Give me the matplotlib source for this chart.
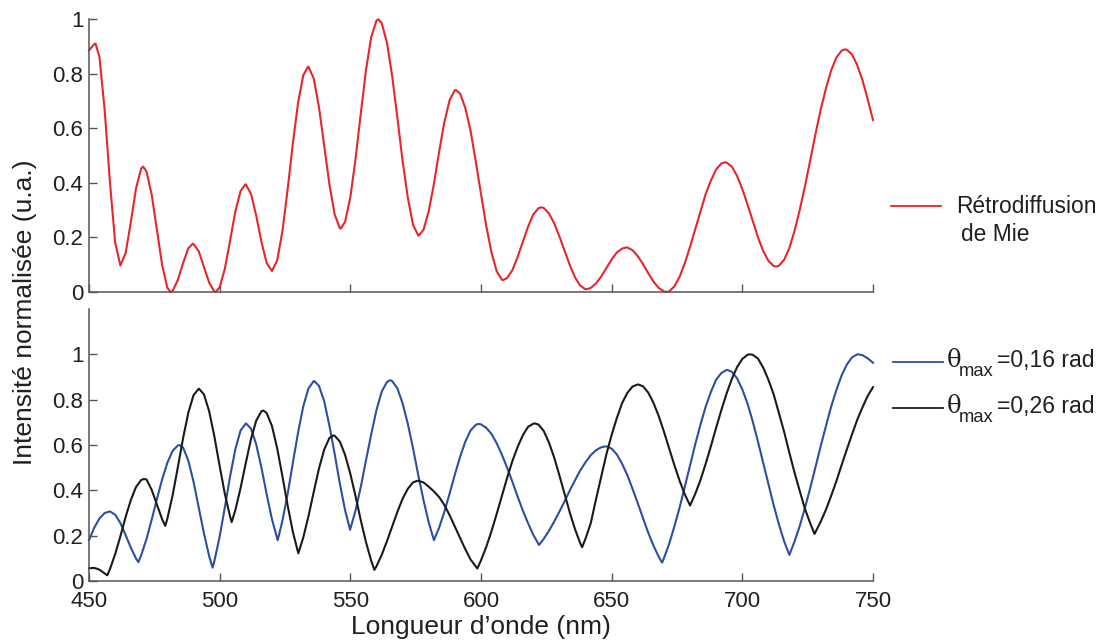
import numpy as np
import matplotlib
matplotlib.use("Agg")
import matplotlib.pyplot as plt
from matplotlib.lines import Line2D

plt.rcParams['font.family'] = ['Liberation Sans', 'DejaVu Sans']

# ---------------- data ----------------
wavelength_grid = np.arange(450, 751, 2)  # nm, sampling grid

mie_grid = [
    .885, .908, .861, .666, .404, .182, .097, .142, .255, .380,
    .453, .442, .356, .226, .098, .015, .004, .044, .106, .160,
    .176, .149, .092, .034, .001, .017, .086, .189, .295, .370,
    .394, .359, .279, .183, .106, .077, .115, .222, .375, .544,
    .693, .794, .825, .782, .677, .536, .394, .284, .233, .257,
    .347, .488, .654, .814, .934, .994, .985, .914, .792, .639,
    .480, .345, .246, .207, .228, .296, .397, .515, .623, .703,
    .739, .727, .674, .591, .478, .359, .243, .145, .076, .045,
    .051, .080, .128, .184, .239, .284, .307, .308, .288, .252,
    .204, .151, .098, .053, .023, .010, .015, .031, .057, .088,
    .119, .145, .159, .163, .153, .131, .102, .069, .038, .015,
    .002, .002, .021, .056, .106, .166, .231, .296, .360, .409,
    .449, .471, .474, .459, .425, .377, .320, .260, .200, .150,
    .114, .095, .096, .118, .161, .225, .302, .389, .484, .579,
    .669, .746, .812, .859, .884, .887, .870, .830, .775, .705,
    .630]
mie_ext_x = [452.5, 470.7, 481.2, 489.7, 498.5, 509.8, 533.8, 546.4, 560.7, 576.2,
             590.4, 608.5, 623.0, 640.3, 655.5, 671.0, 693.4, 713.0, 739.3]
mie_ext_y = [.910, .459, .000, .177, .000, .394, .825, .233, .999, .207,
             .740, .044, .310, .010, .163, .000, .475, .093, .889]

t016_grid = [
    .180, .235, .276, .300, .307, .293, .256, .203, .147, .099,
    .115, .185, .271, .362, .449, .522, .574, .598, .589, .531,
    .438, .324, .209, .109, .089, .196, .326, .462, .582, .664,
    .695, .672, .602, .499, .382, .273, .187, .265, .384, .521,
    .655, .771, .850, .882, .861, .793, .685, .561, .429, .312,
    .230, .311, .415, .533, .648, .754, .835, .878, .882, .850,
    .784, .693, .585, .467, .357, .258, .180, .236, .306, .386,
    .470, .548, .615, .664, .689, .691, .676, .649, .608, .557,
    .500, .438, .373, .311, .255, .204, .163, .186, .221, .262,
    .306, .352, .400, .445, .488, .524, .555, .577, .590, .594,
    .584, .558, .517, .467, .406, .343, .277, .213, .156, .107,
    .101, .164, .241, .324, .416, .510, .604, .691, .770, .835,
    .889, .918, .931, .923, .894, .845, .782, .703, .614, .521,
    .427, .334, .250, .175, .115, .175, .244, .324, .411, .503,
    .595, .684, .770, .843, .907, .955, .987, 1.000, .996, .982,
    .963]
t016_ext_x = [468.9, 484.6, 497.3, 510.1, 522.2, 536.2, 549.9, 565.2, 599.0, 622.2,
              647.7, 669.3, 694.3, 744.4]
t016_ext_y = [.083, .600, .059, .695, .180, .882, .226, .886, .693, .159,
              .594, .081, .931, 1.000]

t026_grid = [
    .056, .058, .050, .033, .052, .118, .197, .282, .357, .415,
    .446, .448, .402, .337, .272, .276, .378, .502, .630, .742,
    .820, .848, .823, .748, .636, .507, .383, .284, .313, .410,
    .521, .627, .708, .749, .741, .684, .586, .463, .334, .217,
    .126, .192, .287, .393, .496, .580, .631, .641, .615, .556,
    .473, .374, .268, .171, .089, .065, .115, .175, .240, .305,
    .363, .407, .435, .442, .435, .416, .395, .370, .335, .290,
    .240, .190, .140, .095, .064, .091, .150, .219, .296, .375,
    .455, .529, .591, .643, .680, .694, .690, .662, .611, .545,
    .466, .383, .301, .228, .166, .187, .255, .360, .460, .560,
    .645, .720, .785, .830, .858, .867, .859, .831, .786, .728,
    .659, .585, .511, .442, .382, .333, .385, .446, .518, .596,
    .677, .755, .828, .892, .944, .980, .998, .998, .981, .941,
    .887, .823, .741, .658, .566, .477, .396, .317, .254, .216,
    .262, .315, .376, .441, .512, .581, .648, .712, .767, .817,
    .855]
t026_ext_x = [457.0, 471.0, 479.2, 492.1, 504.6, 516.7, 530.1, 543.5, 559.2, 575.6,
              598.6, 620.7, 638.7, 660.2, 703.0, 727.6]
t026_ext_y = [.025, .450, .243, .848, .260, .752, .122, .642, .049, .442,
              .055, .695, .149, .867, 1.000, .208]

x_ticks = [450, 500, 550, 600, 650, 700, 750]
y_ticks = [0, 0.2, 0.4, 0.6, 0.8, 1]
y_tick_labels = ['0', '0.2', '0.4', '0.6', '0.8', '1']

label_mie = ['Rétrodiffusion', 'de Mie']
label_theta = ['\u03b8', 'max']
label_values = ['=0,16 rad', '=0,26 rad']

RED = '#E6262C'
BLUE = '#2C4EA3'
BLACK = '#1A1A1A'
AXC = '#555555'
TXC = '#231F20'


def merge(gx, gy, ex, ey):
    x = np.concatenate([np.asarray(gx, float), np.asarray(ex, float)])
    y = np.concatenate([np.asarray(gy, float), np.asarray(ey, float)])
    o = np.argsort(x, kind='stable')
    return x[o], y[o]


W, H = 1101, 642
fig = plt.figure(figsize=(W / 100, H / 100), dpi=100)


def rect(l, t, r, b):
    return [l / W, 1 - b / H, (r - l) / W, (b - t) / H]


def fx(p):
    return p / W


def fy(p):
    return 1 - p / H


ax1 = fig.add_axes(rect(89, 19, 873, 292))
ax2 = fig.add_axes(rect(89, 309, 873, 581))

for ax in (ax1, ax2):
    ax.set_facecolor('none')
    ax.spines['top'].set_visible(False)
    ax.spines['right'].set_visible(False)
    for s in ('left', 'bottom'):
        ax.spines[s].set_color(AXC)
        ax.spines[s].set_linewidth(1.1)
    ax.set_xlim(450, 750)
    ax.set_xticks(x_ticks)
    ax.set_yticks(y_ticks)
    ax.set_yticklabels(y_tick_labels)
    ax.tick_params(axis='both', direction='in', length=5.5, width=1.0,
                   color=AXC, labelsize=16, labelcolor=TXC)
    ax.tick_params(axis='y', pad=4)
    ax.tick_params(axis='x', pad=7.5)

ax1.set_ylim(0, 1)
ax2.set_ylim(0, 1.2)
ax1.tick_params(axis='x', labelbottom=False)

xm, ym = merge(wavelength_grid, mie_grid, mie_ext_x, mie_ext_y)
ax1.plot(xm, ym, color=RED, lw=1.5, clip_on=False, solid_joinstyle='round')

xb, yb = merge(wavelength_grid, t016_grid, t016_ext_x, t016_ext_y)
ax2.plot(xb, yb, color=BLUE, lw=1.5, clip_on=False, solid_joinstyle='round')
xk, yk = merge(wavelength_grid, t026_grid, t026_ext_x, t026_ext_y)
ax2.plot(xk, yk, color=BLACK, lw=1.5, clip_on=False, solid_joinstyle='round')

# axis labels
fig.text(fx(25), fy(312), 'Intensité normalisée (u.a.)', rotation=90,
         ha='center', va='center', fontsize=19, color=TXC)
fig.text(fx(481), fy(634), 'Longueur d\u2019onde (nm)', ha='center',
         va='baseline', fontsize=19, color=TXC)

# legends (drawn by hand to match the reference layout)
fig.add_artist(Line2D([fx(891), fx(941)], [fy(206), fy(206)], color=RED, lw=1.3))
fig.text(fx(956), fy(213.3), label_mie[0], fontsize=16.4, va='baseline', color=TXC)
fig.text(fx(961), fy(241), label_mie[1], fontsize=16.4, va='baseline', color=TXC)

for color, yline, base, val in ((BLUE, 362, 367, label_values[0]),
                                (BLACK, 408, 413, label_values[1])):
    fig.add_artist(Line2D([fx(893), fx(943)], [fy(yline), fy(yline)], color=color, lw=1.3))
    fig.text(fx(947), fy(base), label_theta[0], fontsize=17.5, va='baseline',
             color=TXC, family=['DejaVu Serif'])
    fig.text(fx(959), fy(base + 9.5), label_theta[1], fontsize=13.2, va='baseline',
             color=TXC)
    fig.text(fx(997), fy(base), val, fontsize=16.6, va='baseline', color=TXC)

fig.savefig('out.png', dpi=100)
